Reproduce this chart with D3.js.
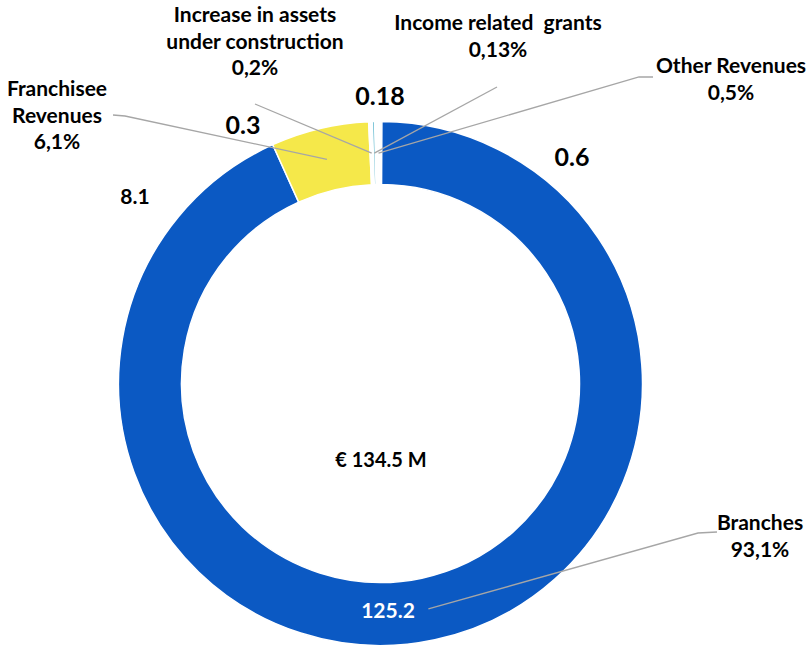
<!DOCTYPE html>
<html>
<head>
<meta charset="UTF-8">
<title></title>
<style>
  body { margin: 0; background: #fff; }
  text { font-family: Lato, "Open Sans", sans-serif; font-weight: bold; fill: #000; white-space: pre; }
</style>
</head>
<body>
<div id="chart"></div>
<script src="https://d3js.org/d3.v7.min.js"></script>
<script>
// data, in drawing order clockwise from the top
var categories = ["Other Revenues", "Branches", "Franchisee Revenues", "Increase in assets under construction", "Income related  grants"];
var values = [0.6, 125.2, 8.1, 0.3, 0.18];
var percents = ["0,5%", "93,1%", "6,1%", "0,2%", "0,13%"];
var valueLabels = ["0.6", "125.2", "8.1", "0.3", "0.18"];
var totalLabel = "€ 134.5 M";

// category label lines (split as in the original)
var nameLines = [["Other Revenues"], ["Branches"], ["Franchisee", "Revenues"], ["Increase in assets", "under construction"], ["Income related  grants"]];
var colors = ["#ffffff", "#0b59c3", "#f5e84a", "#ffffff", "#4aaec8"];

var width = 811, height = 647;
var cx = 380.5, cy = 383.5, outerR = 262, innerR = 199;

// label layout: x centre, first baseline, leader elbow
var nameLayout = [
  {x: 731, y: 73, elbow: [[653, 77], [639, 77]]},
  {x: 760, y: 530, elbow: [[717, 532], [698, 533]]},
  {x: 57, y: 96, elbow: [[113, 115], [125, 116]]},
  {x: 255, y: 22, elbow: [[255, 104]]},
  {x: 498, y: 30, elbow: [[497, 87]]}
];
var valueLayout = [
  {x: 572, y: 166, size: 25, fill: "#000"},
  {x: 388, y: 618, size: 21, fill: "#fff"},
  {x: 135, y: 204, size: 21, fill: "#000"},
  {x: 243, y: 134, size: 25, fill: "#000"},
  {x: 380, y: 105, size: 25, fill: "#000"}
];

var svg = d3.select("#chart").append("svg")
  .attr("width", width)
  .attr("height", height);

var pie = d3.pie()
  .sort(null)
  .startAngle(-1.3 * Math.PI / 180)
  .endAngle(2 * Math.PI - 1.3 * Math.PI / 180)
  .value(function(d) { return d; });

var arc = d3.arc().innerRadius(innerR).outerRadius(outerR);
var arcs = pie(values);

var g = svg.append("g").attr("transform", "translate(" + cx + "," + cy + ")");

g.selectAll("path.slice")
  .data(arcs)
  .enter().append("path")
  .attr("class", "slice")
  .attr("d", arc)
  .attr("fill", function(d, i) { return colors[i]; })
  .attr("stroke", "#fff")
  .attr("stroke-width", 1.5);

// leader lines from the slice centroid to the label
arcs.forEach(function(d, i) {
  var c = arc.centroid(d);
  var pts = nameLayout[i].elbow.map(function(p) { return [p[0] - cx, p[1] - cy]; });
  pts.push(c);
  g.append("path")
    .attr("d", d3.line()(pts))
    .attr("fill", "none")
    .attr("stroke", "#a6a6a6")
    .attr("stroke-width", 1.3);
});

// category names + percentages
nameLines.forEach(function(lines, i) {
  var L = nameLayout[i];
  var t = svg.append("text")
    .attr("text-anchor", "middle")
    .attr("font-size", 21);
  lines.concat([percents[i]]).forEach(function(s, k) {
    t.append("tspan")
      .attr("x", L.x)
      .attr("y", L.y + k * 26.5)
      .text(s);
  });
});

// values
valueLabels.forEach(function(s, i) {
  var L = valueLayout[i];
  svg.append("text")
    .attr("x", L.x)
    .attr("y", L.y)
    .attr("text-anchor", "middle")
    .attr("font-size", L.size)
    .style("fill", L.fill)
    .text(s);
});

svg.append("text")
  .attr("x", cx + 0.5)
  .attr("y", 467)
  .attr("text-anchor", "middle")
  .attr("font-size", 20)
  .text(totalLabel);
</script>
</body>
</html>
